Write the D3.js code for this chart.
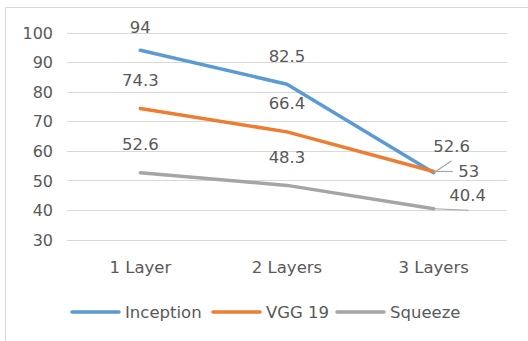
<!DOCTYPE html>
<html>
<head>
<meta charset="utf-8">
<script src="https://cdn.jsdelivr.net/npm/d3@7"></script>
<style>
  html, body { margin: 0; padding: 0; background: #fff; }
  svg { display: block; }
  text { font-family: "DejaVu Sans", sans-serif; fill: #595959; }
</style>
</head>
<body>
<svg id="chart" width="528" height="341"></svg>
<script>
// Categories along the x axis
const categories = ["1 Layer", "2 Layers", "3 Layers"];
// Series names and values
const seriesNames = ["Inception", "VGG 19", "Squeeze"];
const inception = [94, 82.5, 52.6];
const vgg19 = [74.3, 66.4, 53];
const squeeze = [52.6, 48.3, 40.4];
const colors = ["#5B9BD5", "#ED7D31", "#A5A5A5"];
// Y axis ticks
const yTicks = [30, 40, 50, 60, 70, 80, 90, 100];

(function () {
  const series = seriesNames.map((name, i) => ({
    name, color: colors[i], values: [inception, vgg19, squeeze][i]
  }));

  const svg = d3.select("#chart");
  const W = 528, H = 341;
  const plotLeft = 67, plotRight = 507, plotTop = 32.5, plotBottom = 239.5;

  // chart frame
  svg.append("path")
    .attr("d", `M5.5,${H} L5.5,7.5 L${W},7.5`)
    .attr("fill", "none").attr("stroke", "#D9D9D9").attr("stroke-width", 1);

  const x = d3.scaleBand().domain(categories).range([plotLeft, plotRight]);
  const y = d3.scaleLinear().domain([30, 100]).range([plotBottom, plotTop]);
  const cx = c => x(c) + x.bandwidth() / 2;

  // gridlines
  svg.append("g").selectAll("line").data(yTicks).join("line")
    .attr("x1", plotLeft).attr("x2", plotRight)
    .attr("y1", d => Math.round(y(d)) + 0.5).attr("y2", d => Math.round(y(d)) + 0.5)
    .attr("stroke", "#D9D9D9").attr("stroke-width", 1);

  // y axis labels
  const yAxis = d3.axisLeft(y).tickValues(yTicks).tickSize(0).tickPadding(0);
  const ya = svg.append("g").attr("transform", "translate(53,0)").call(yAxis);
  ya.select(".domain").remove();
  ya.selectAll("text").style("font-family", "'DejaVu Sans', sans-serif")
    .style("font-size", "16px").attr("fill", "#595959").attr("dy", "0.36em");

  // x axis labels
  const xAxis = d3.axisBottom(x).tickSize(0).tickPadding(0);
  const xa = svg.append("g").attr("transform", `translate(0,${plotBottom})`).call(xAxis);
  xa.select(".domain").remove();
  xa.selectAll("text").style("font-family", "'DejaVu Sans', sans-serif")
    .style("font-size", "16.5px").attr("fill", "#595959").attr("y", 28).attr("dy", "0.36em");

  // series lines
  const line = d3.line().x((d, i) => cx(categories[i])).y(d => y(d));
  svg.append("g").selectAll("path").data(series).join("path")
    .attr("d", d => line(d.values))
    .attr("fill", "none").attr("stroke", d => d.color)
    .attr("stroke-width", 3.5).attr("stroke-linecap", "round").attr("stroke-linejoin", "round");

  // leader lines for the crowded labels at the last category
  const lastX = cx(categories[2]);
  const leaders = [
    [[lastX, y(inception[2])], [lastX + 18, y(inception[2]) - 12]],
    [[lastX, y(vgg19[2])], [lastX + 19, y(vgg19[2])]],
    [[lastX, y(squeeze[2])], [lastX + 35, y(squeeze[2]) + 1.5]]
  ];
  svg.append("g").selectAll("path").data(leaders).join("path")
    .attr("d", d => d3.line()(d))
    .attr("fill", "none").attr("stroke", "#A6A6A6").attr("stroke-width", 1.2);

  // data labels
  const labels = [];
  series.forEach((s, si) => {
    s.values.forEach((v, i) => {
      let lx = cx(categories[i]), ly = Math.max(y(v) - 28.5, 27);
      if (i === 2) {
        if (si === 0) { lx += 18; ly = y(v) - 27; }
        if (si === 1) { lx += 35; ly = y(v); }
        if (si === 2) { lx += 34; ly = y(v) - 14; }
      }
      labels.push({ v, lx, ly });
    });
  });
  svg.append("g").selectAll("text").data(labels).join("text")
    .attr("x", d => d.lx).attr("y", d => d.ly).attr("dy", "0.36em")
    .attr("text-anchor", "middle").style("font-size", "16.5px")
    .text(d => d.v);

  // legend
  const legendItems = [
    { x: 72, name: seriesNames[0], color: colors[0] },
    { x: 213, name: seriesNames[1], color: colors[1] },
    { x: 337, name: seriesNames[2], color: colors[2] }
  ];
  const lg = svg.append("g").selectAll("g").data(legendItems).join("g")
    .attr("transform", d => `translate(${d.x},312)`);
  lg.append("line").attr("x1", 0).attr("x2", 47).attr("y1", 0).attr("y2", 0)
    .attr("stroke", d => d.color).attr("stroke-width", 3.5).attr("stroke-linecap", "round");
  lg.append("text").attr("x", 53).attr("dy", "0.36em").style("font-size", "16.5px")
    .text(d => d.name);
})();
</script>
</body>
</html>
